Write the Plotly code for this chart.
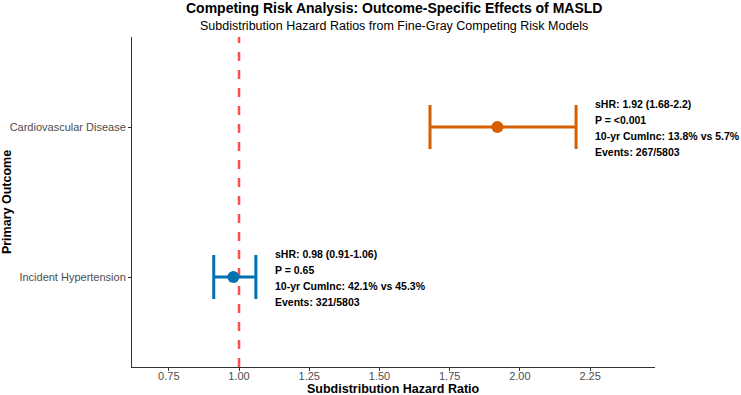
import plotly.graph_objects as go

outcomes = ["Cardiovascular Disease", "Incident Hypertension"]
shr = [1.92, 0.98]
lower = [1.68, 0.91]
upper = [2.20, 1.06]
pvals = ["<0.001", "0.65"]
cuminc = ["13.8% vs 5.7%", "42.1% vs 45.3%"]
events = ["267/5803", "321/5803"]
colors = ["#D55E00", "#0072B2"]
ypos = [2, 1]

FONT = "Liberation Sans, Arial, Helvetica, sans-serif"

fig = go.Figure()

# reference line
fig.add_shape(type="line", xref="x", yref="paper", x0=1, x1=1, y0=0, y1=1,
              line=dict(color="#F8504F", width=2.5, dash="dash"), layer="below")

for i in range(len(outcomes)):
    fig.add_trace(go.Scatter(
        x=[shr[i]], y=[ypos[i]], mode="markers",
        marker=dict(size=12, color=colors[i]),
        error_x=dict(type="data", symmetric=False,
                     array=[upper[i] - shr[i]], arrayminus=[shr[i] - lower[i]],
                     color=colors[i], thickness=3, width=22),
        showlegend=False, hoverinfo="skip"))
    lines = [f"sHR: {shr[i]:.2f} ({lower[i]:g}-{upper[i]:g})",
             f"P = {pvals[i]}",
             f"10-yr CumInc: {cuminc[i]}",
             f"Events: {events[i]}"]
    shifts = [23, 7, -9, -25]
    for ln, sh in zip(lines, shifts):
        fig.add_annotation(x=upper[i] + 0.06, y=ypos[i], xref="x", yref="y",
                           text=f"<b>{ln.replace('<', '&lt;')}</b>", showarrow=False,
                           xanchor="left", yanchor="middle", yshift=sh,
                           font=dict(family=FONT, size=10.5, color="black"))

fig.update_layout(
    width=741, height=395,
    margin=dict(l=132, r=86, t=37, b=28),
    plot_bgcolor="white", paper_bgcolor="white",
    font=dict(family=FONT),
    xaxis=dict(range=[0.619, 2.481], tickvals=[0.75, 1.0, 1.25, 1.5, 1.75, 2.0, 2.25],
               ticktext=["0.75", "1.00", "1.25", "1.50", "1.75", "2.00", "2.25"],
               showgrid=False, zeroline=False, showline=True, linecolor="#333333", linewidth=1,
               ticks="outside", ticklen=3, tickcolor="#333333", automargin=False,
               ticklabelstandoff=-4,
               tickfont=dict(size=11, color="#4D4D4D")),
    yaxis=dict(range=[0.4, 2.6], tickvals=ypos, ticktext=outcomes,
               showgrid=False, zeroline=False, showline=True, linecolor="#333333", linewidth=1,
               ticks="outside", ticklen=3, tickcolor="#333333", automargin=False,
               tickfont=dict(size=11, color="#4D4D4D"),
               title=dict(text="<b>Primary Outcome</b>", standoff=6,
                          font=dict(size=12.5, color="black"))),
)

fig.add_annotation(text="<b>Subdistribution Hazard Ratio</b>",
                   xref="paper", yref="paper", x=0.5, y=0, yshift=-22, showarrow=False,
                   xanchor="center", yanchor="middle", font=dict(size=12.5, color="black"))
fig.add_annotation(text="<b>Competing Risk Analysis: Outcome-Specific Effects of MASLD</b>",
                   xref="paper", yref="paper", x=0.5, y=1, yshift=29, showarrow=False,
                   xanchor="center", yanchor="middle", font=dict(size=14, color="black"))
fig.add_annotation(text="Subdistribution Hazard Ratios from Fine-Gray Competing Risk Models",
                   xref="paper", yref="paper", x=0.5, y=1, yshift=11, showarrow=False,
                   xanchor="center", yanchor="middle", font=dict(size=12.5, color="black"))

fig.write_html("out.html")
